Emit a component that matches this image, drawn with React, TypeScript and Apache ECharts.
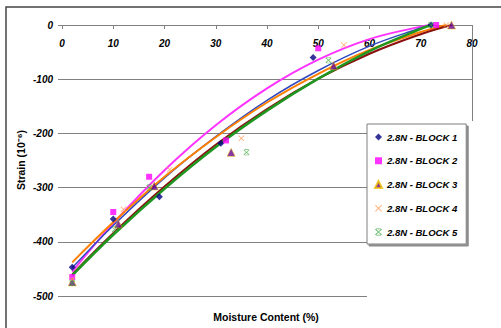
import React, { useEffect, useRef } from "react";
import * as echarts from "echarts";

const seriesNames = [
  "2.8N - BLOCK 1",
  "2.8N - BLOCK 2",
  "2.8N - BLOCK 3",
  "2.8N - BLOCK 4",
  "2.8N - BLOCK 5",
];

// measured points (moisture %, strain 10^-6)
const block1X = [2, 10, 19, 31, 49, 72];
const block1Y = [-447, -358, -317, -218, -60, 0];
const block2X = [2, 10, 17, 32, 50, 73];
const block2Y = [-465, -345, -280, -213, -43, 0];
const block3X = [2, 11, 18, 33, 53, 76];
const block3Y = [-474, -367, -297, -235, -75, 0];
const block4X = [2, 12, 21, 35, 55, 75];
const block4Y = [-470, -340, -267, -209, -37, 0];
const block5X = [2, 10.3, 17, 36, 52, 72];
const block5Y = [-476, -377, -300, -235, -65, 0];

// trend lines
const trend1X = [2, 10, 20, 30, 40, 50, 60, 70, 72];
const trend1Y = [-448, -370, -282, -206, -139, -84, -39, -5.5, 0];
const trend2X = [2, 10, 20, 30, 40, 50, 60, 70, 72];
const trend2Y = [-455, -366, -268, -185, -117, -64, -26, -3, 0];
const trend3X = [2, 10, 20, 30, 40, 50, 60, 70, 76];
const trend3Y = [-460, -384, -298, -221, -155, -99, -53, -17, 0];
const trend4X = [2, 10, 20, 30, 40, 50, 60, 70, 75];
const trend4Y = [-438, -364, -280, -207, -143, -90, -46, -13, 0];
const trend5X = [2, 10, 20, 30, 40, 50, 60, 70, 72];
const trend5Y = [-462, -387, -302, -225, -158, -99, -48, -7, 0];

const xTitle = "Moisture Content (%)";
const yTitle = "Strain (10\u207B\u2076)";

const FONT = "'Liberation Sans', Arial, Helvetica, sans-serif";

const pair = (xs: number[], ys: number[]) => xs.map((x, i) => [x, ys[i]]);

const X_PATH =
  "path://M0,1 L1,0 L5,4 L9,0 L10,1 L6,5 L10,9 L9,10 L5,6 L1,10 L0,9 L4,5 Z";
const STAR_PATH =
  "path://M0,1.5 L1,0.5 L5,4.3 L9,0.5 L10,1.5 L5.9,5 L10,8.5 L9,9.5 L5,5.7 L1,9.5 L0,8.5 L4.1,5 Z M1.5,0 L8.5,0 L8.5,0.9 L1.5,0.9 Z M1.5,9.1 L8.5,9.1 L8.5,10 L1.5,10 Z";

export default function App() {
  const ref = useRef<HTMLDivElement>(null);
  useEffect(() => {
    if (!ref.current) return;
    const chart = echarts.init(ref.current, null, { renderer: "svg" });
    const markerX = [block1X, block2X, block3X, block4X, block5X];
    const markerY = [block1Y, block2Y, block3Y, block4Y, block5Y];
    const trendX = [trend1X, trend2X, trend3X, trend4X, trend5X];
    const trendY = [trend1Y, trend2Y, trend3Y, trend4Y, trend5Y];
    const symbols = ["diamond", "rect", "triangle", X_PATH, STAR_PATH];
    const symbolSizes = [7, 6, 8, 6, 6];
    const markerStyles: any[] = [
      { color: "#000080" },
      { color: "#FF00FF" },
      { color: "#66058C", borderColor: "#F2C200", borderWidth: 0.6 },
      { color: "#FF9E5E" },
      { color: "#3DAA3D" },
    ];
    const trendColors = ["#3048C0", "#FF33FF", "#8B1010", "#FF7F00", "#1F961F"];
    const trendWidths = [1.5, 2, 2, 2, 2.5];
    const trendOrder = [1, 0, 3, 2, 4];

    const series: any[] = [];
    trendOrder.forEach((i) => {
      series.push({
        type: "line",
        name: "trend" + (i + 1),
        data: pair(trendX[i], trendY[i]),
        smooth: 0.4,
        showSymbol: false,
        symbol: "none",
        lineStyle: { color: trendColors[i], width: trendWidths[i] },
        z: 2,
        silent: true,
      });
    });
    seriesNames.forEach((n, i) => {
      series.push({
        type: "scatter",
        name: n,
        data: pair(markerX[i], markerY[i]),
        symbol: symbols[i],
        symbolSize: symbolSizes[i],
        itemStyle: markerStyles[i],
        z: 3,
      });
    });

    const tickLabel = {
      fontSize: 10,
      fontWeight: "bold",
      fontStyle: "italic",
      color: "#000",
      fontFamily: FONT,
    };

    chart.setOption({
      animation: false,
      backgroundColor: "#fff",
      grid: { left: 62, right: 29, top: 25, bottom: 32 },
      xAxis: {
        type: "value",
        position: "top",
        min: 0,
        max: 80,
        interval: 10,
        axisLine: { show: true, onZero: false, lineStyle: { color: "#808080", width: 1 } },
        axisTick: { show: true, inside: true, length: 4, lineStyle: { color: "#808080" } },
        axisLabel: { ...tickLabel, inside: true, margin: 13 },
        splitLine: { show: false },
      },
      yAxis: {
        type: "value",
        min: -500,
        max: 0,
        interval: 100,
        axisLine: { show: false },
        axisTick: { show: true, length: 4, lineStyle: { color: "#808080" } },
        axisLabel: { ...tickLabel, margin: 9 },
        splitLine: { show: true, lineStyle: { color: "#808080", width: 1 } },
      },
      legend: {
        data: seriesNames,
        orient: "vertical",
        left: 367,
        top: 124,
        padding: [7, 9, 6, 7],
        itemGap: 11.75,
        itemWidth: 7,
        itemHeight: 7,
        textStyle: {
          fontSize: 9.5,
          fontWeight: "bold",
          fontStyle: "italic",
          color: "#000",
          fontFamily: FONT,
          lineHeight: 12,
        },
        backgroundColor: "#fff",
        borderColor: "#7f7f7f",
        borderWidth: 1,
        borderRadius: 0,
        shadowColor: "rgba(0,0,0,0.45)",
        shadowBlur: 1,
        shadowOffsetX: 2,
        shadowOffsetY: 2,
      },
      graphic: [
        {
          type: "rect",
          z: 1,
          silent: true,
          shape: { x: 367, y: 121, width: 134, height: 180 },
          style: { fill: "#fff" },
        },
        {
          type: "line",
          z: 1,
          silent: true,
          shape: { x1: 472.5, y1: 25, x2: 472.5, y2: 121 },
          style: { stroke: "#808080", lineWidth: 1 },
        },
        {
          type: "rect",
          z: 10,
          silent: true,
          shape: { x: 6, y: 7, width: 700, height: 500 },
          style: { fill: "none", stroke: "#444", lineWidth: 1.5 },
        },
        {
          type: "text",
          z: 10,
          x: 266,
          y: 317,
          style: {
            text: xTitle,
            font: `bold 10.5px ${FONT}`,
            fill: "#000",
            align: "center",
            verticalAlign: "middle",
            textAlign: "center",
            textVerticalAlign: "middle",
          },
        },
        {
          type: "text",
          z: 10,
          x: 21,
          y: 160,
          rotation: Math.PI / 2,
          style: {
            text: yTitle,
            font: `bold 10.5px ${FONT}`,
            fill: "#000",
            align: "center",
            verticalAlign: "middle",
            textAlign: "center",
            textVerticalAlign: "middle",
          },
        },
      ],
      series,
    });
    return () => chart.dispose();
  }, []);
  return (
    <div
      ref={ref}
      style={{ position: "fixed", left: 0, top: 0, width: 501, height: 328 }}
    />
  );
}
